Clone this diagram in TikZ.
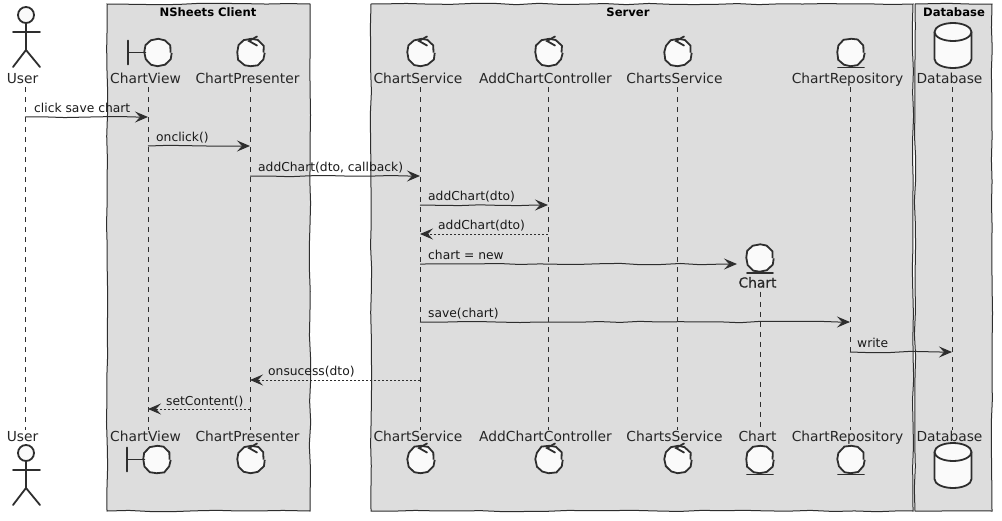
\documentclass[tikz,border=0pt]{standalone}
\usepackage{fontspec}
\setmainfont{DejaVu Sans}
\usetikzlibrary{arrows.meta,decorations.pathmorphing}
\definecolor{inkc}{HTML}{2E2E2E}
\definecolor{boxc}{HTML}{DDDDDD}
\definecolor{iconc}{HTML}{FAFAFA}
\tikzset{
	sketch/.style={decorate,decoration={random steps,segment length=20pt,amplitude=0.7pt,post length=12pt}},
	groupbox/.style={draw=inkc,fill=boxc,line width=1pt,decorate,decoration={random steps,segment length=22pt,amplitude=0.7pt}},
	grouptitle/.style={font=\fontsize{11.6}{13}\selectfont\bfseries,text=black,inner sep=0pt},
	partlabel/.style={font=\fontsize{13.8}{15}\selectfont,text=black!85,inner sep=1pt,text height=10pt,text depth=3pt},
	msglabel/.style={font=\fontsize{12.3}{14}\selectfont,text=black!90,inner sep=0pt,anchor=base west},
	lifeline/.style={draw=inkc,line width=0.7pt,dash pattern=on 5pt off 5pt},
	msg/.style={draw=inkc,line width=1pt,sketch,-{Stealth[length=13pt,width=11pt,inset=5pt]}},
	reply/.style={draw=inkc,line width=0.9pt,dash pattern=on 2pt off 2pt,-{Stealth[length=13pt,width=11pt,inset=5pt,sep=0pt]}},
	icon/.style={draw=inkc,fill=iconc,line width=1.8pt},
	wobble/.style={decorate,decoration={random steps,segment length=7pt,amplitude=0.5pt}},
	iconline/.style={draw=inkc,line width=1.8pt,line cap=round},
}
\newcommand{\controlicon}[2]{
	\draw[icon,wobble] (#1,#2) circle(12.5pt);
	\draw[iconline] (#1+6,#2-16) -- (#1-2,#2-11.5) -- (#1+6,#2-7);
}
\newcommand{\boundaryicon}[2]{
	\draw[icon,wobble] (#1,#2) circle(12.5pt);
	\draw[iconline] (#1-30,#2-12) -- (#1-30,#2+12);
	\draw[iconline] (#1-30,#2) -- (#1-12.5,#2);
}
\newcommand{\entityicon}[2]{
	\draw[icon,wobble] (#1,#2) circle(12.5pt);
	\draw[iconline] (#1-13,#2+15) -- (#1+13,#2+15);
}
\newcommand{\actoricon}[2]{
	\draw[icon] (#1,#2) circle(8pt);
	\draw[iconline] (#1,#2+8) -- (#1,#2+35);
	\draw[iconline] (#1-13,#2+17) -- (#1+14,#2+17);
	\draw[iconline] (#1-13,#2+52) -- (#1,#2+35) -- (#1+14,#2+52);
}
\newcommand{\dbicon}[2]{
	\draw[icon] (#1-18.5,#2) -- (#1-18.5,#2+27) arc[start angle=180, end angle=360, x radius=18.5pt, y radius=9pt] -- (#1+18.5,#2) arc[start angle=0, end angle=180, x radius=18.5pt, y radius=9pt];
	\draw[icon] (#1-18.5,#2) arc[start angle=180, end angle=360, x radius=18.5pt, y radius=9pt];
}
\begin{document}
\begin{tikzpicture}[x=1pt,y=-1pt]
	\pgfmathsetseed{7}
	\useasboundingbox (0,0) rectangle (1002,520);
	\fill[white] (0,0) rectangle (1002,520);
	\draw[groupbox] (107,4) rectangle (310,511);
	\draw[groupbox] (371,4) rectangle (913,511);
	\draw[groupbox] (915,4) rectangle (992,511);
	\node[grouptitle] (TitleClient) at (208,12) {NSheets Client};
	\node[grouptitle] (TitleServer) at (628,12) {Server};
	\node[grouptitle] (TitleDb) at (954,12) {Database};
	\node[partlabel] (UserT) at (25,79.5) {\hspace{-5pt}User};
	\node[partlabel] (ViewT) at (148,79.5) {\hspace{-5pt}ChartView};
	\node[partlabel] (PresenterT) at (250,79.5) {\hspace{-5pt}ChartPresenter};
	\node[partlabel] (ServiceT) at (420,79.5) {\hspace{-4pt}ChartService};
	\node[partlabel] (ControllerT) at (548,79.5) {\hspace{-5pt}AddChartController};
	\node[partlabel] (ChartsT) at (677,79.5) {\hspace{-5pt}ChartsService};
	\node[partlabel] (RepoT) at (850,79.5) {\hspace{-5pt}ChartRepository};
	\node[partlabel] (DbT) at (952,79.5) {\hspace{-5pt}Database};
	\node[partlabel] (UserB) at (25,437.5) {\hspace{-5pt}User};
	\node[partlabel] (ViewB) at (148,437.5) {\hspace{-5pt}ChartView};
	\node[partlabel] (PresenterB) at (250,437.5) {\hspace{-5pt}ChartPresenter};
	\node[partlabel] (ServiceB) at (420,437.5) {\hspace{-4pt}ChartService};
	\node[partlabel] (ControllerB) at (548,437.5) {\hspace{-5pt}AddChartController};
	\node[partlabel] (ChartsB) at (677,437.5) {\hspace{-5pt}ChartsService};
	\node[partlabel] (ChartB) at (760,437.5) {\hspace{-5pt}Chart};
	\node[partlabel] (RepoB) at (850,437.5) {\hspace{-5pt}ChartRepository};
	\node[partlabel] (DbB) at (952,437.5) {\hspace{-5pt}Database};
	\node[partlabel] (ChartT) at (760,284) {\addfontfeature{FakeBold=0.3}\hspace{-5pt}Chart};
	\draw[lifeline] (UserT) -- (UserB);
	\draw[lifeline] (ViewT) -- (ViewB);
	\draw[lifeline] (PresenterT) -- (PresenterB);
	\draw[lifeline] (ServiceT) -- (ServiceB);
	\draw[lifeline] (ControllerT) -- (ControllerB);
	\draw[lifeline] (ChartsT) -- (ChartsB);
	\draw[lifeline] (ChartT) -- (ChartB);
	\draw[lifeline] (RepoT) -- (RepoB);
	\draw[lifeline] (DbT) -- (DbB);
	\actoricon{26}{15}
	\boundaryicon{158}{52.5}
	\controlicon{251}{52.5}
	\controlicon{421}{52.5}
	\controlicon{549}{52.5}
	\controlicon{678}{52.5}
	\entityicon{851}{52.5}
	\dbicon{953}{32}
	\entityicon{760}{258}
	\actoricon{26}{453}
	\boundaryicon{157}{459.5}
	\controlicon{251}{459.5}
	\controlicon{421}{459.5}
	\controlicon{549}{459.5}
	\controlicon{678}{459.5}
	\entityicon{760}{459.5}
	\entityicon{851}{459.5}
	\dbicon{953}{452}
	\coordinate (M1a) at (25,117);
	\coordinate (M1b) at (148,117);
	\coordinate (M2a) at (148,146);
	\coordinate (M2b) at (250,146);
	\coordinate (M3a) at (250,176);
	\coordinate (M3b) at (420,176);
	\coordinate (M4a) at (420,205);
	\coordinate (M4b) at (548,205);
	\coordinate (M5a) at (548,234);
	\coordinate (M5b) at (420,234);
	\coordinate (M6a) at (420,264);
	\coordinate (M6b) at (737,264);
	\coordinate (M7a) at (420,322);
	\coordinate (M7b) at (850,322);
	\coordinate (M8a) at (850,352);
	\coordinate (M8b) at (952,352);
	\coordinate (M9a) at (420,380);
	\coordinate (M9b) at (250,380);
	\coordinate (M10a) at (250,409);
	\coordinate (M10b) at (148,409);
	\draw[msg] (M1a) -- (M1b);
	\draw[msg] (M2a) -- (M2b);
	\draw[msg] (M3a) -- (M3b);
	\draw[msg] (M4a) -- (M4b);
	\draw[reply] (M5a) -- (M5b);
	\draw[msg] (M6a) -- (M6b);
	\draw[msg] (M7a) -- (M7b);
	\draw[msg] (M8a) -- (M8b);
	\draw[reply] (M9a) -- (M9b);
	\draw[reply] (M10a) -- (M10b);
	\node[msglabel] (L1) at (34,112) {click save chart};
	\node[msglabel] (L2) at (156,141) {onclick()};
	\node[msglabel] (L3) at (258,171) {addChart(dto, callback)};
	\node[msglabel] (L4) at (428,200) {addChart(dto)};
	\node[msglabel] (L5) at (438,229) {addChart(dto)};
	\node[msglabel] (L6) at (428,259) {chart = new};
	\node[msglabel] (L7) at (428,317) {save(chart)};
	\node[msglabel] (L8) at (857,347) {write};
	\node[msglabel] (L9) at (268,375) {onsucess(dto)};
	\node[msglabel] (L10) at (166,405) {setContent()};
\end{tikzpicture}
\end{document}
